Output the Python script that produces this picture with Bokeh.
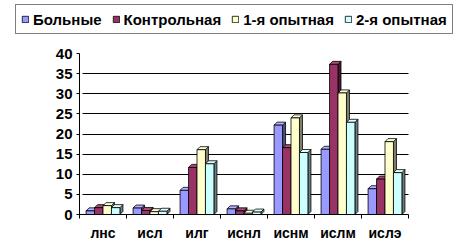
from bokeh.plotting import figure
from bokeh.models import FixedTicker, Legend, LegendItem, Range1d
from bokeh.embed import file_html
from bokeh.resources import INLINE

categories = ["лнс", "исл", "илг", "иснл", "иснм", "ислм", "ислэ"]
series_names = ["Больные", "Контрольная", "1-я опытная", "2-я опытная"]
bolnye = [0.9, 1.6, 6.0, 1.4, 22.2, 16.2, 6.4]
kontrol = [1.7, 1.0, 11.7, 0.9, 16.6, 37.3, 8.8]
opyt1 = [2.2, 0.7, 16.1, 0.3, 24.0, 30.2, 18.1]
opyt2 = [1.7, 0.8, 12.6, 0.6, 15.4, 22.9, 10.4]
y_ticks = [0, 5, 10, 15, 20, 25, 30, 35, 40]

values = [bolnye, kontrol, opyt1, opyt2]
front_colors = ["#9999FF", "#993366", "#FFFFCC", "#CCFFFF"]
side_colors = ["#4D4D80", "#4D1A33", "#80806A", "#6A8080"]
top_colors = ["#B3B3FF", "#A84D7A", "#FFFFE0", "#E0FFFF"]

W, H = 462, 247
font = "Liberation Sans"
n = len(categories)
ymax = y_ticks[-1]

# frame covers the whole canvas; axes drawn at fixed locations inside it
px_x = (408 - 79) / n
px_y = (214 - 53) / ymax
x0 = -79 / px_x
y0 = -(H - 214) / px_y
p = figure(width=W, height=H, output_backend="svg", toolbar_location=None,
           x_range=Range1d(x0, x0 + W / px_x), y_range=Range1d(y0, y0 + H / px_y),
           min_border_left=0, min_border_right=0, min_border_top=0, min_border_bottom=0)
p.outline_line_color = None
p.background_fill_color = "white"

bw = 0.18
dx = 0.064
dy = 0.75
offsets = [-0.27, -0.09, 0.09, 0.27]

items = []
for s, vals in enumerate(values):
    lefts = [i + 0.5 + offsets[s] - bw / 2 for i in range(n)]
    rights = [l + bw for l in lefts]
    side_xs = [[r, r + dx, r + dx, r] for r in rights]
    side_ys = [[0, dy, v + dy, v] for v in vals]
    top_xs = [[l, l + dx, r + dx, r] for l, r in zip(lefts, rights)]
    top_ys = [[v, v + dy, v + dy, v] for v in vals]
    p.patches(side_xs, side_ys, fill_color=side_colors[s], line_color="black", line_width=0.8)
    p.patches(top_xs, top_ys, fill_color=top_colors[s], line_color="black", line_width=0.8)
    r = p.quad(left=lefts, right=rights, bottom=0, top=vals, fill_color=front_colors[s],
               line_color="black", line_width=0.8)
    items.append(LegendItem(label=series_names[s], renderers=[r]))

# y axis
p.yaxis.fixed_location = 0
p.yaxis.bounds = (0, ymax)
p.yaxis.ticker = FixedTicker(ticks=y_ticks)
p.yaxis.major_label_text_font = font
p.yaxis.major_label_text_font_style = "bold"
p.yaxis.major_label_text_font_size = "15px"
p.yaxis.major_label_text_color = "black"
p.yaxis.axis_line_color = "black"
p.yaxis.major_tick_line_color = "black"
p.yaxis.major_tick_out = 3
p.yaxis.major_tick_in = 0
p.yaxis.minor_tick_line_color = None
p.yaxis.major_label_standoff = 4

p.ygrid.ticker = FixedTicker(ticks=y_ticks[1:-1])
p.ygrid.bounds = (0, ymax)
p.ygrid.cross_bounds = (0.06, n)
p.ygrid.grid_line_color = "black"
p.ygrid.grid_line_width = 1
p.xgrid.grid_line_color = None

# x axis
p.xaxis.fixed_location = 0
p.xaxis.bounds = (0, n)
p.xaxis.ticker = FixedTicker(ticks=[i + 0.5 for i in range(n)],
                             minor_ticks=list(range(n + 1)))
p.xaxis.major_label_overrides = {i + 0.5: c for i, c in enumerate(categories)}
p.xaxis.major_tick_line_color = None
p.xaxis.minor_tick_line_color = "black"
p.xaxis.minor_tick_out = 4
p.xaxis.minor_tick_in = 0
p.xaxis.axis_line_color = "black"
p.xaxis.major_label_text_font = font
p.xaxis.major_label_text_font_style = "bold"
p.xaxis.major_label_text_font_size = "14px"
p.xaxis.major_label_text_color = "black"
p.xaxis.major_label_standoff = 4

legend = Legend(items=items, orientation="horizontal", location=(15, H - 34),
                glyph_width=8, glyph_height=8, label_standoff=4, spacing=10,
                padding=5, margin=0, label_height=18,
                label_text_font=font, label_text_font_style="bold",
                label_text_font_size="15px", label_text_color="black",
                border_line_color="black", border_line_width=1,
                background_fill_color="white", background_fill_alpha=1)
p.add_layout(legend, "center")

open("out.html", "w").write(file_html(p, INLINE))
